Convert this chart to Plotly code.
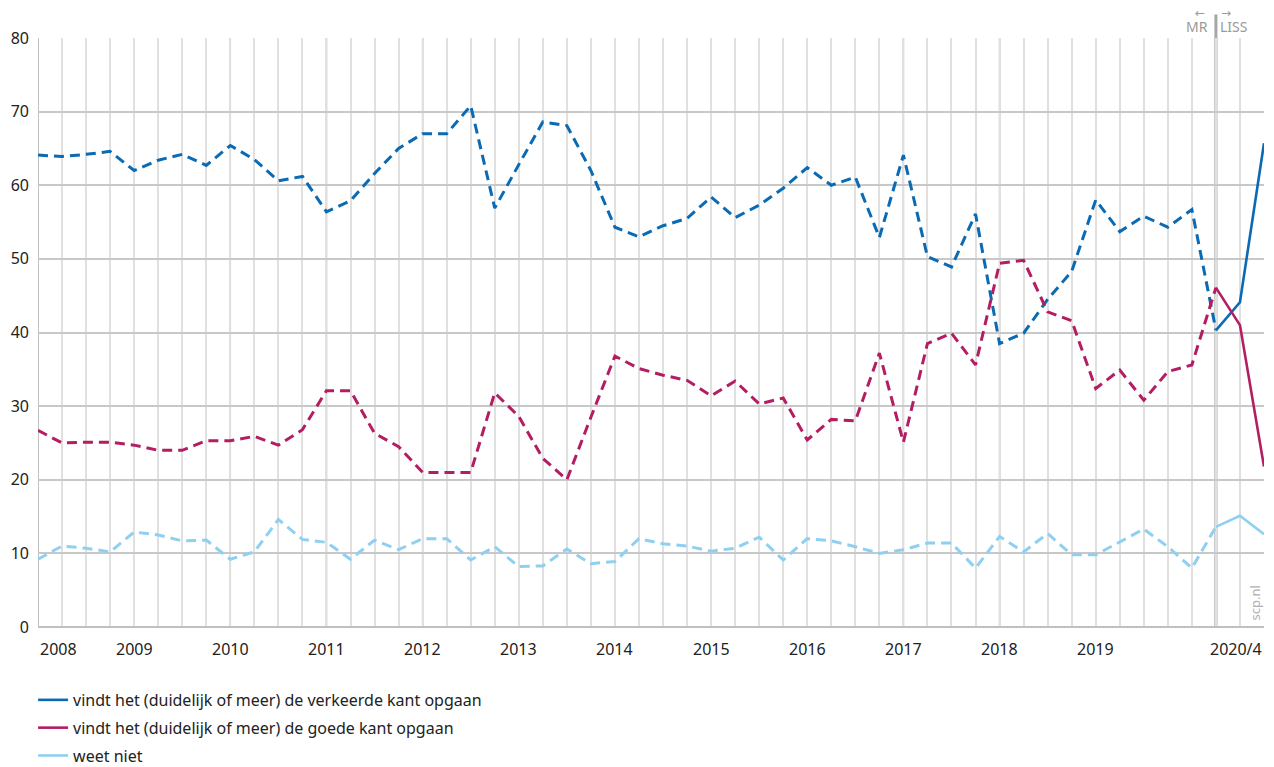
import plotly.graph_objects as go

# quarterly index: 0 = first quarter of 2008, 49 = switch from MR to LISS
mr_quarters = list(range(0, 50))
liss_quarters = [49, 50, 51]

verkeerd_mr = [
    64.1, 63.9, 64.2, 64.6, 62.0, 63.4, 64.2, 62.7, 65.4, 63.5,
    60.6, 61.2, 56.4, 57.9, 61.6, 65.0, 67.0, 67.0, 70.8, 56.9,
    62.8, 68.6, 68.1, 62.0, 54.3, 53.0, 54.5, 55.5, 58.4, 55.6,
    57.3, 59.6, 62.4, 60.0, 61.1, 52.9, 64.1, 50.3, 48.9, 56.1,
    38.5, 39.9, 44.5, 48.3, 58.0, 53.7, 55.8, 54.3, 56.7, 40.3,
]
goed_mr = [
    26.7, 25.0, 25.1, 25.1, 24.7, 24.0, 24.0, 25.3, 25.3, 25.9,
    24.7, 26.8, 32.1, 32.1, 26.3, 24.5, 21.0, 21.0, 21.0, 31.8,
    28.6, 22.9, 20.0, 28.5, 36.8, 35.1, 34.2, 33.5, 31.4, 33.4,
    30.3, 31.1, 25.4, 28.2, 28.0, 37.2, 25.1, 38.5, 39.9, 35.6,
    49.4, 49.8, 42.8, 41.6, 32.4, 34.9, 30.8, 34.7, 35.6, 46.1,
]
weet_niet_mr = [
    9.2, 11.0, 10.7, 10.2, 12.9, 12.5, 11.7, 11.8, 9.2, 10.2,
    14.6, 11.9, 11.5, 9.2, 11.8, 10.5, 12.0, 12.0, 9.1, 10.9,
    8.2, 8.3, 10.6, 8.6, 8.9, 12.0, 11.3, 11.0, 10.3, 10.7,
    12.2, 9.1, 12.0, 11.7, 10.9, 10.0, 10.5, 11.4, 11.4, 8.0,
    12.3, 10.2, 12.7, 9.8, 9.8, 11.6, 13.3, 10.9, 8.0, 13.6,
]
verkeerd_liss = [40.3, 44.1, 65.7]
goed_liss = [46.1, 41.0, 21.8]
weet_niet_liss = [13.6, 15.1, 12.6]

series_names = [
    "vindt het (duidelijk of meer) de verkeerde kant opgaan",
    "vindt het (duidelijk of meer) de goede kant opgaan",
    "weet niet",
]
series_colors = ["#0a6ab3", "#b41d62", "#8fd0f0"]

year_labels = ["2008", "2009", "2010", "2011", "2012", "2013", "2014",
               "2015", "2016", "2017", "2018", "2019", "2020/4"]
year_label_pos = [0, 4, 8, 12, 16, 20, 24, 28, 32, 36, 40, 44, 51]
year_lines = [0, 4, 8, 12, 16, 20, 24, 28, 32, 36, 40, 44, 48]
switch_quarter = 49

FONT = "Noto Sans"

fig = go.Figure()

mr_data = [verkeerd_mr, goed_mr, weet_niet_mr]
liss_data = [verkeerd_liss, goed_liss, weet_niet_liss]

for name, color, mr, liss in zip(series_names, series_colors, mr_data, liss_data):
    fig.add_trace(go.Scatter(
        x=mr_quarters, y=mr, mode="lines", showlegend=False,
        line=dict(color=color, width=3, dash="10px,6px"),
        legendgroup=name, hoverinfo="skip",
    ))
    fig.add_trace(go.Scatter(
        x=liss_quarters, y=liss, mode="lines", name=name,
        line=dict(color=color, width=2.6),
        legendgroup=name,
    ))

# darker year gridlines
for q in year_lines:
    fig.add_shape(type="line", xref="x", yref="paper", x0=q, x1=q, y0=0, y1=1,
                  line=dict(color="#acacac", width=1.5), layer="below")

# MR / LISS divider
fig.add_shape(type="line", xref="x", yref="paper", x0=switch_quarter, x1=switch_quarter,
              y0=0, y1=1.04, line=dict(color="#a6a6a6", width=3), layer="below")

annotations = []
for label, pos in zip(year_labels, year_label_pos):
    anchor = "center"
    if pos == 0:
        anchor = "left"
    elif pos == 51:
        anchor = "right"
    annotations.append(dict(
        x=pos, y=0, xref="x", yref="paper", text=label, showarrow=False,
        xanchor=anchor, yanchor="top", yshift=-9,
        font=dict(family=FONT, size=16, color="#222222"),
    ))

grey_txt = dict(family=FONT, size=14, color="#9a9a9a")
arrow_txt = dict(family="DejaVu Sans", size=12, color="#9a9a9a")
annotations += [
    dict(x=switch_quarter, y=1.0, xref="x", yref="paper", text="MR", showarrow=False,
         xanchor="right", yanchor="middle", xshift=-6, yshift=12, font=grey_txt),
    dict(x=switch_quarter, y=1.0, xref="x", yref="paper", text="LISS", showarrow=False,
         xanchor="left", yanchor="middle", xshift=2, yshift=12, font=grey_txt),
    dict(x=switch_quarter, y=1.0, xref="x", yref="paper", text="←", showarrow=False,
         xanchor="right", yanchor="middle", xshift=-9, yshift=25, font=arrow_txt),
    dict(x=switch_quarter, y=1.0, xref="x", yref="paper", text="→", showarrow=False,
         xanchor="left", yanchor="middle", xshift=3, yshift=25, font=arrow_txt),
    dict(x=51, y=0, xref="x", yref="paper", text="scp.nl", showarrow=False,
         textangle=-90, xanchor="center", yanchor="bottom", xshift=-10, yshift=4,
         font=dict(family=FONT, size=13, color="#b0b0b0")),
]

# the page body adds an 8px offset, so the figure is placed to compensate
fig.update_layout(
    width=1266,
    height=759,
    margin=dict(l=30, r=10, t=30, b=140, autoexpand=False),
    paper_bgcolor="white",
    plot_bgcolor="white",
    font=dict(family=FONT, size=16, color="#222222"),
    showlegend=True,
    legend=dict(
        x=-0.004, y=-0.095, xanchor="left", yanchor="top",
        traceorder="grouped", tracegroupgap=4,
        itemwidth=30, font=dict(family=FONT, size=16, color="#222222"),
    ),
    annotations=annotations,
    xaxis=dict(
        range=[0, 51],
        tickmode="array", tickvals=[], showticklabels=False,
        showgrid=False, zeroline=False, showline=False,
        minor=dict(tickmode="linear", tick0=0, dtick=1, showgrid=True,
                   gridcolor="#e0e0e0", gridwidth=2),
    ),
    yaxis=dict(
        range=[0, 80], dtick=10, tick0=0,
        showgrid=True, gridcolor="#c8c8c8", gridwidth=1.5,
        zeroline=True, zerolinecolor="#c0c0c0", zerolinewidth=2,
        showline=False, ticks="", ticklabelstandoff=8,
        tickfont=dict(family=FONT, size=16, color="#222222"),
    ),
)

fig.write_html("out.html")
